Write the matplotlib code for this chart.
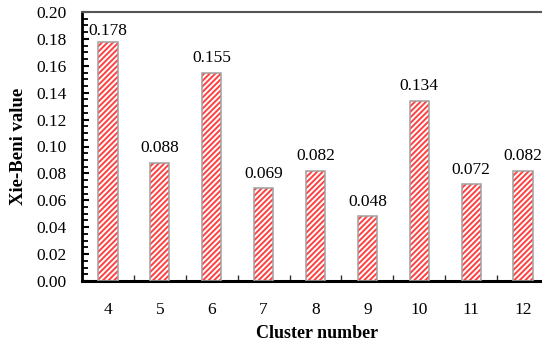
import matplotlib
matplotlib.use("Agg")
import matplotlib.pyplot as plt
from matplotlib.ticker import MultipleLocator

clusters = [4, 5, 6, 7, 8, 9, 10, 11, 12]
xb_values = [0.178, 0.088, 0.155, 0.069, 0.082, 0.048, 0.134, 0.072, 0.082]
value_labels = ["0.178", "0.088", "0.155", "0.069", "0.082", "0.048", "0.134", "0.072", "0.082"]

plt.rcParams["font.family"] = ["Liberation Serif", "DejaVu Serif"]
plt.rcParams["hatch.linewidth"] = 1.4
plt.rcParams["hatch.color"] = "#ff4040"

fig = plt.figure(figsize=(5.42, 3.42), dpi=100)
# axes runs slightly past the right edge like the original crop
ax = fig.add_axes([82 / 542, (342 - 281) / 342, (549 - 82) / 542, (281 - 12) / 342])

# hatch layer then grey outline
ax.bar(clusters, xb_values, width=0.37, color="white", edgecolor="#ff4040",
       hatch="//////", linewidth=0, zorder=2)
ax.bar(clusters, xb_values, width=0.37, color="none", edgecolor="#a0a0a0",
       linewidth=1.1, zorder=3)

for x, v, s in zip(clusters, xb_values, value_labels):
    # the top label sits a little closer to its bar in the original
    off = 5 if v > 0.17 else 7.5
    ax.annotate(s, (x, v), xytext=(0, off), textcoords="offset points",
                ha="center", va="baseline", fontsize=12.5)

ax.set_xlim(3.5, 12.5)
ax.set_ylim(0, 0.20)
ax.set_xticks(clusters)
ax.set_xticklabels([str(c) for c in clusters])
ax.set_xticks([c + 0.5 for c in clusters[:-1]], minor=True)
ax.yaxis.set_major_locator(MultipleLocator(0.02))
ax.yaxis.set_minor_locator(MultipleLocator(0.005))
ax.yaxis.set_major_formatter(plt.FuncFormatter(lambda v, p: f"{v:.2f}"))

ax.tick_params(axis="x", which="major", length=0, pad=15, labelsize=12.5)
ax.tick_params(axis="x", which="minor", direction="in", length=4, width=1, color="#333333")
ax.tick_params(axis="y", which="major", direction="in", length=5, width=1.5, pad=11, labelsize=12.5)
ax.tick_params(axis="y", which="minor", direction="in", length=4, width=1.3)

ax.spines["left"].set_linewidth(2)
ax.spines["bottom"].set_linewidth(2.2)
ax.spines["top"].set_color("#555555")
ax.spines["top"].set_linewidth(1.5)
ax.spines["right"].set_visible(False)

ax.set_xlabel("Cluster number", fontsize=13, fontweight="bold")
ax.set_ylabel("Xie-Beni value", fontsize=13.5, fontweight="bold")
ax.xaxis.set_label_coords((317 - 82) / (549 - 82), -(325 - 281) / (281 - 12))
ax.yaxis.set_label_coords(-(82 - 27) / (549 - 82), 0.5)

fig.savefig("out.png", dpi=100)
